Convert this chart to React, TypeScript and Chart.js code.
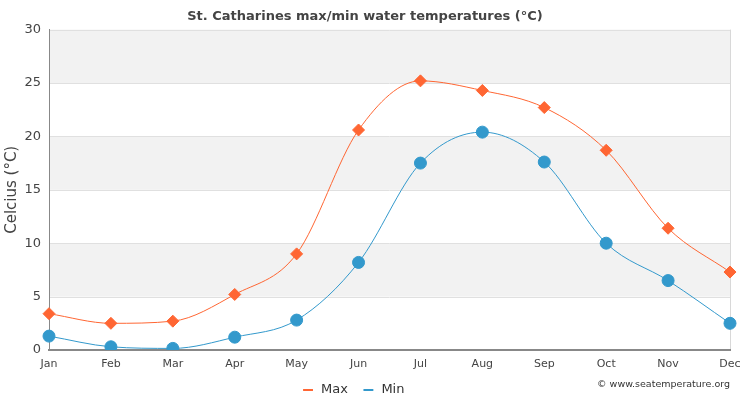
import React, { useEffect, useRef } from "react";
import { Chart, registerables } from "chart.js";

Chart.register(...registerables);

const months = ["Jan", "Feb", "Mar", "Apr", "May", "Jun", "Jul", "Aug", "Sep", "Oct", "Nov", "Dec"];
const maxTemps = [3.4, 2.5, 2.7, 5.2, 9.0, 20.6, 25.2, 24.3, 22.7, 18.7, 11.4, 7.3];
const minTemps = [1.3, 0.3, 0.15, 1.2, 2.8, 8.2, 17.5, 20.4, 17.6, 10.0, 6.5, 2.5];
const yTicks = [0, 5, 10, 15, 20, 25, 30];

const FONT = "'DejaVu Sans', sans-serif";
const MAX_COLOR = "#ff6633";
const MIN_COLOR = "#3399cc";

const bandsPlugin = {
  id: "bands",
  beforeLayout(chart: any) {
    const leg = chart.legend;
    if (leg && !leg._patchedFit) {
      const orig = leg.fit.bind(leg);
      leg.fit = function () {
        orig();
        this.height = 26;
      };
      leg._patchedFit = true;
    }
  },
  afterLayout(chart: any) {
    const leg = chart.legend;
    if (leg) {
      leg.left -= 12;
      leg.right -= 12;
      leg.top -= 4.5;
      leg.bottom -= 4.5;
    }
  },
  beforeDraw(chart: any) {
    const { ctx, chartArea, scales } = chart;
    const y = scales.y;
    ctx.save();
    for (let i = 0; i < yTicks.length - 1; i++) {
      const top = y.getPixelForValue(yTicks[i + 1]);
      const bottom = y.getPixelForValue(yTicks[i]);
      if (i % 2 === 1) {
        ctx.fillStyle = "#f2f2f2";
        ctx.fillRect(chartArea.left, top, chartArea.right - chartArea.left, bottom - top);
      }
    }
    ctx.strokeStyle = "#e0e0e0";
    ctx.lineWidth = 1;
    for (let i = 1; i < yTicks.length; i++) {
      const py = Math.round(y.getPixelForValue(yTicks[i])) + 0.5;
      ctx.beginPath();
      ctx.moveTo(chartArea.left, py);
      ctx.lineTo(chartArea.right, py);
      ctx.stroke();
    }
    ctx.beginPath();
    ctx.strokeStyle = "#d8d8d8";
    ctx.moveTo(Math.round(chartArea.right) + 0.5, chartArea.top);
    ctx.lineTo(Math.round(chartArea.right) + 0.5, chartArea.bottom);
    ctx.stroke();
    ctx.restore();
  },
  afterDraw(chart: any) {
    const { ctx } = chart;
    ctx.save();
    ctx.font = `9.5px ${FONT}`;
    ctx.fillStyle = "#333";
    ctx.textAlign = "right";
    ctx.textBaseline = "middle";
    ctx.fillText("© www.seatemperature.org", 730, 385);
    ctx.restore();
  },
};

export default function App() {
  const ref = useRef<HTMLCanvasElement>(null);
  useEffect(() => {
    document.body.style.margin = "0";
    const canvas = ref.current!;
    const chart = new Chart(canvas, {
      type: "line",
      data: {
        labels: months,
        datasets: [
          {
            label: "Max",
            data: maxTemps,
            borderColor: MAX_COLOR,
            backgroundColor: MAX_COLOR,
            borderWidth: 1,
            pointStyle: "rectRot",
            pointRadius: 6,
            pointHoverRadius: 6,
            cubicInterpolationMode: "monotone",
            fill: false,
          },
          {
            label: "Min",
            data: minTemps,
            borderColor: MIN_COLOR,
            backgroundColor: MIN_COLOR,
            borderWidth: 1,
            pointStyle: "circle",
            pointRadius: 6,
            pointHoverRadius: 6,
            cubicInterpolationMode: "monotone",
            fill: false,
          },
        ],
      },
      options: {
        responsive: false,
        animation: false,
        layout: { padding: { left: 0, right: 20, top: 0, bottom: 0 } },
        plugins: {
          title: {
            display: true,
            text: "St. Catharines max/min water temperatures (°C)",
            color: "#444",
            font: { family: FONT, size: 13, weight: "bold" },
            padding: { top: 9, bottom: 5 },
          },
          legend: {
            position: "bottom",
            labels: {
              color: "#333",
              font: { family: FONT, size: 13 },
              usePointStyle: true,
              pointStyle: "line",
              boxHeight: 7,
              padding: 14,
              generateLabels(chart: any) {
                const items = Chart.defaults.plugins.legend.labels.generateLabels(chart);
                items.forEach((it: any) => {
                  it.lineWidth = 2;
                  it.pointStyle = "line";
                });
                return items;
              },
            },
          },
          tooltip: { enabled: false },
        },
        scales: {
          x: {
            offset: false,
            grid: { display: false, drawTicks: false },
            border: { display: true, color: "#888", width: 2 },
            ticks: {
              color: "#444",
              font: { family: FONT, size: 11 },
              padding: 8,
              maxRotation: 0,
              autoSkip: false,
            },
            afterFit(scale: any) {
              scale.height = 24;
            },
          },
          y: {
            min: 0,
            max: 30,
            grid: { display: false, drawTicks: false },
            border: { display: true, color: "#888", width: 1 },
            ticks: {
              stepSize: 5,
              color: "#444",
              font: { family: FONT, size: 13 },
              padding: 8,
            },
            title: {
              display: true,
              text: "Celcius (°C)",
              color: "#444",
              font: { family: FONT, size: 15 },
              padding: { top: 3, bottom: 4 },
            },
            afterFit(scale: any) {
              scale.width = 49;
            },
          },
        },
      },
      plugins: [bandsPlugin],
    } as any);
    return () => chart.destroy();
  }, []);
  return <canvas ref={ref} width={750} height={400} style={{ display: "block" }} />;
}
